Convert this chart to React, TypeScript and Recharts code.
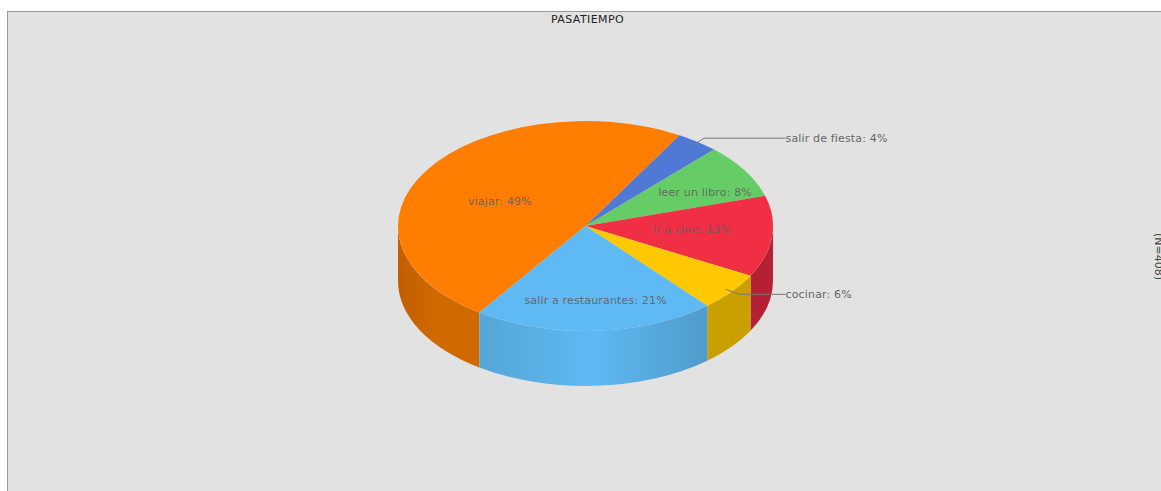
import React from "react";
import { PieChart, Pie } from "recharts";

// Survey answers (N=408), in clockwise drawing order.
const categories = ["viajar", "salir de fiesta", "leer un libro", "ir a cine", "cocinar", "salir a restaurantes"];
const counts = [199, 15, 34, 51, 24, 85];
const topColors = ["#FF7D00", "#5079D6", "#66CC66", "#F02F45", "#FFC800", "#5FB9F2"];
const wallStops = [
  ["#C25E00", "#D06A00", "#D06A00"],
  ["#3F60AB", "#3F60AB", "#3F60AB"],
  ["#52A352", "#52A352", "#52A352"],
  ["#B52035", "#B52035", "#B52035"],
  ["#CAA000", "#CAA000", "#C89E00"],
  ["#55A6D8", "#5FB9F2", "#4F9BCB"],
];

// Where each label sits, as fractions of the ellipse radii along the slice's mid angle.
const insideLabelReach: Record<string, [number, number]> = {
  viajar: [0.54, 0.45],
  "leer un libro": [0.75, 0.62],
  "ir a cine": [0.57, 0.3],
  "salir a restaurantes": [1.03, 0.71],
};
const leaderElbows: Record<string, [number, number]> = {
  "salir de fiesta": [11, -7],
  cocinar: [14, 5],
};

const rows = categories.map((name, i) => ({ name, value: counts[i], fill: topColors[i], index: i }));

const CHART_W = 1153;
const CHART_H = 479;
const CX = 577.5;
const CY = 214;
const RX = 187.5;
const RY = 105;
const DEPTH = 55;
const LEADER_END_X = 200;
const TEXT_FONT = "'DejaVu Sans', sans-serif";
const LABEL_SPACING = 0.16;

const point = (t: number, dy = 0) => {
  const r = (t * Math.PI) / 180;
  return [CX + RX * Math.cos(r), CY + RY * Math.sin(r) + dy];
};

// Top of a slice, as a sector of the flattened ellipse.
const TopFace = (props: any) => {
  const a = -props.startAngle;
  const b = -props.endAngle;
  const [x0, y0] = point(a);
  const [x1, y1] = point(b);
  const large = b - a > 180 ? 1 : 0;
  return (
    <path
      d={`M${CX},${CY} L${x0},${y0} A${RX},${RY} 0 ${large} 1 ${x1},${y1} Z`}
      fill={props.fill}
    />
  );
};

// Visible side wall of a slice: the part of its arc on the front half of the ellipse.
const SideWall = (props: any) => {
  const a = -props.startAngle;
  const b = -props.endAngle;
  const parts: React.ReactNode[] = [];
  [-360, 0].forEach((shift) => {
    const from = Math.max(a, shift);
    const to = Math.min(b, shift + 180);
    if (to <= from) return;
    const [x0, y0] = point(from);
    const [x1, y1] = point(to);
    parts.push(
      <path
        key={shift}
        d={`M${x0},${y0} A${RX},${RY} 0 0 1 ${x1},${y1} L${x1},${y1 + DEPTH} A${RX},${RY} 0 0 0 ${x0},${y0 + DEPTH} Z`}
        fill={`url(#wall-${props.payload?.index ?? props.index})`}
      />
    );
  });
  return <g>{parts}</g>;
};

const SliceLabel = (props: any) => {
  const name: string = props.name;
  const text = `${name}: ${Math.round(props.percent * 100)}%`;
  const t = (-props.midAngle * Math.PI) / 180;
  const reach = insideLabelReach[name];
  if (reach) {
    return (
      <text
        x={CX + RX * reach[0] * Math.cos(t)}
        y={CY + RY * reach[1] * Math.sin(t) + 4}
        textAnchor="middle"
        fontFamily={TEXT_FONT}
        fontSize={11}
        letterSpacing={LABEL_SPACING}
        fill="#606060"
        fillOpacity={0.9}
      >
        {text}
      </text>
    );
  }
  const sx = CX + RX * 0.96 * Math.cos(t);
  const sy = CY + RY * 0.96 * Math.sin(t);
  const [ex, ey] = leaderElbows[name];
  const ly = sy + ey;
  return (
    <g>
      <polyline
        points={`${sx},${sy} ${sx + ex},${ly} ${CX + LEADER_END_X},${ly}`}
        fill="none"
        stroke="#777777"
        strokeWidth={1}
      />
      <text
        x={CX + LEADER_END_X}
        y={ly + 4}
        fontFamily={TEXT_FONT}
        fontSize={11}
        letterSpacing={LABEL_SPACING}
        fill="#666666"
      >
        {text}
      </text>
    </g>
  );
};

export default function App() {
  return (
    <div
      style={{
        position: "absolute",
        left: 7,
        top: 11,
        width: CHART_W,
        height: CHART_H,
        background: "#E2E2E2",
        borderLeft: "1px solid #999999",
        borderTop: "1px solid #999999",
      }}
    >
      <PieChart width={CHART_W} height={CHART_H} margin={{ top: 0, right: 0, bottom: 0, left: 0 }}>
        <defs>
          {wallStops.map((stops, i) => (
            <linearGradient
              key={i}
              id={`wall-${i}`}
              gradientUnits="userSpaceOnUse"
              x1={i === 0 ? CX - RX : i === 5 ? CX - 106 : CX + 120}
              x2={i === 0 ? CX - 106 : i === 5 ? CX + 122 : CX + RX}
              y1={0}
              y2={0}
            >
              <stop offset="0%" stopColor={stops[0]} />
              <stop offset="50%" stopColor={stops[1]} />
              <stop offset="100%" stopColor={stops[2]} />
            </linearGradient>
          ))}
        </defs>
        <text
          x={579.5}
          y={10.5}
          textAnchor="middle"
          fontFamily={TEXT_FONT}
          fontSize={11}
          letterSpacing={0.4}
          fill="#222222"
        >
          PASATIEMPO
        </text>
        <text
          x={0}
          y={0}
          transform={`translate(1147,221) rotate(90)`}
          fontFamily={TEXT_FONT}
          fontSize={11}
          fill="#444444"
        >
          (N=408)
        </text>
        <Pie
          data={rows}
          dataKey="value"
          nameKey="name"
          cx={CX}
          cy={CY}
          innerRadius={0}
          outerRadius={RX}
          startAngle={235.5}
          endAngle={-124.5}
          stroke="none"
          shape={SideWall}
          isAnimationActive={false}
        />
        <Pie
          data={rows}
          dataKey="value"
          nameKey="name"
          cx={CX}
          cy={CY}
          innerRadius={0}
          outerRadius={RX}
          startAngle={235.5}
          endAngle={-124.5}
          stroke="none"
          shape={TopFace}
          label={SliceLabel}
          labelLine={false}
          isAnimationActive={false}
        />
      </PieChart>
    </div>
  );
}
